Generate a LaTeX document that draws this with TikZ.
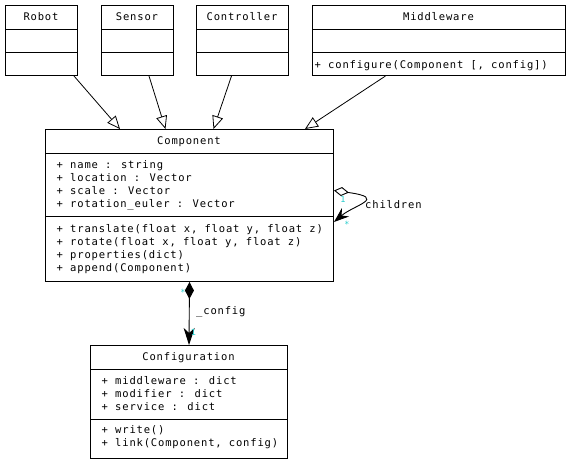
\documentclass[tikz,border=0pt]{standalone}
\usepackage{fontspec}
\usetikzlibrary{arrows.meta}
\newfontfamily\umlfamily{DejaVu Sans Mono}[LetterSpace=8]
\newcommand{\umlfont}{\umlfamily\fontsize{10.5pt}{13pt}\selectfont}
\newcommand{\multfont}{\umlfamily\fontsize{8.5pt}{9pt}\selectfont}
\definecolor{multcolor}{RGB}{40,205,205}

\tikzset{
  box/.style={draw, line width=1pt, rectangle, inner sep=0pt, anchor=north west},
  divider/.style={line width=1pt},
  ttl/.style={font=\umlfont, inner sep=0pt, anchor=base},
  member/.style={font=\umlfont, inner sep=0pt, anchor=base west},
  role/.style={font=\umlfont, inner sep=0pt, anchor=base west},
  mult/.style={font=\multfont, text=multcolor, inner sep=0pt},
  gen/.style={line width=0.8pt, -{Triangle[open, length=13pt, width=11pt]}},
  comp/.style={line width=0.9pt, {Diamond[length=17pt, width=9pt]}-{Stealth[length=17pt, width=11pt, inset=5pt]}},
  aggr/.style={line width=0.9pt, {Diamond[open, length=15pt, width=9pt]}-{Stealth[length=15pt, width=11pt, inset=5pt]}},
}

% class box: name, left, top, width, height, first divider, second divider (from top)
\newcommand{\classbox}[7]{%
  \node[box, minimum width=#4pt, minimum height=#5pt] (#1) at (#2,#3) {};
  \draw[divider] ([yshift=-#6pt]#1.north west) -- ([yshift=-#6pt]#1.north east);
  \draw[divider] ([yshift=-#7pt]#1.north west) -- ([yshift=-#7pt]#1.north east);
}

\begin{document}
\begin{tikzpicture}[x=1pt, y=-1pt]
  \fill[white] (0,0) rectangle (571,464);
  \useasboundingbox (0,0) rectangle (571,464);

  % parent classes
  \classbox{robot}{5}{5}{72}{70}{24}{47}
  \classbox{sensor}{101}{5}{72}{70}{24}{47}
  \classbox{controller}{196}{5}{92}{70}{24}{47}
  \classbox{middleware}{312}{5}{253}{70}{24}{47}
  \node[ttl] (robotT) at (41,20.7) {Robot};
  \node[ttl] (sensorT) at (137,20.7) {Sensor};
  \node[ttl] (controllerT) at (242,20.7) {Controller};
  \node[ttl] (middlewareT) at (438.5,20.7) {Middleware};
  \node[member] (middlewareM1) at (314.5,68.3) {+ configure(Component [, config])};

  % Component
  \classbox{component}{45}{129}{288}{152}{24}{87}
  \node[ttl] (componentT) at (189,144.3) {Component};
  \node[member] (compA1) at (56.5,168) {+ name : string};
  \node[member] (compA2) at (56.5,181.3) {+ location : Vector};
  \node[member] (compA3) at (56.5,194.6) {+ scale : Vector};
  \node[member] (compA4) at (56.5,207.9) {+ rotation\_euler : Vector};
  \node[member] (compM1) at (56.5,232.3) {+ translate(float x, float y, float z)};
  \node[member] (compM2) at (56.5,245.5) {+ rotate(float x, float y, float z)};
  \node[member] (compM3) at (56.5,258.7) {+ properties(dict)};
  \node[member] (compM4) at (56.5,271.9) {+ append(Component)};

  % Configuration
  \classbox{configuration}{90}{345}{197}{113}{24}{74}
  \node[ttl] (configurationT) at (188.5,360.3) {Configuration};
  \node[member] (confA1) at (101.5,384) {+ middleware : dict};
  \node[member] (confA2) at (101.5,397.2) {+ modifier : dict};
  \node[member] (confA3) at (101.5,410.4) {+ service : dict};
  \node[member] (confM1) at (101.5,433.5) {+ write()};
  \node[member] (confM2) at (101.5,446.7) {+ link(Component, config)};

  % generalisations
  \draw[gen] ([xshift=-4pt]robot.south east) -- ([xshift=75pt]component.north west);
  \draw[gen] ([xshift=11.5pt]sensor.south) -- ([xshift=120.5pt]component.north west);
  \draw[gen] ([xshift=-11pt]controller.south) -- ([xshift=168.5pt]component.north west);
  \draw[gen] ([xshift=-53.5pt]middleware.south) -- ([xshift=260pt]component.north west);

  % composition
  \draw[comp] (component.south) -- (configuration.north);
  \node[role] (configRole) at (196,314) {\_config};
  \node[mult] (compStar) at (183,292) {*};
  \node[mult] (compOne) at (193.5,332) {1};

  % children self-association
  \coordinate (loopOut) at ([yshift=15pt]component.east);
  \coordinate (loopIn) at ([yshift=-16.5pt]component.east);
  \draw[aggr] (loopOut) .. controls (388,198) and (354,205) .. (loopIn);
  \node[role] (childrenRole) at (365,208.3) {children};
  \node[mult] (loopOne) at (343,199) {1};
  \node[mult] (loopStar) at (347,224) {*};
\end{tikzpicture}
\end{document}
